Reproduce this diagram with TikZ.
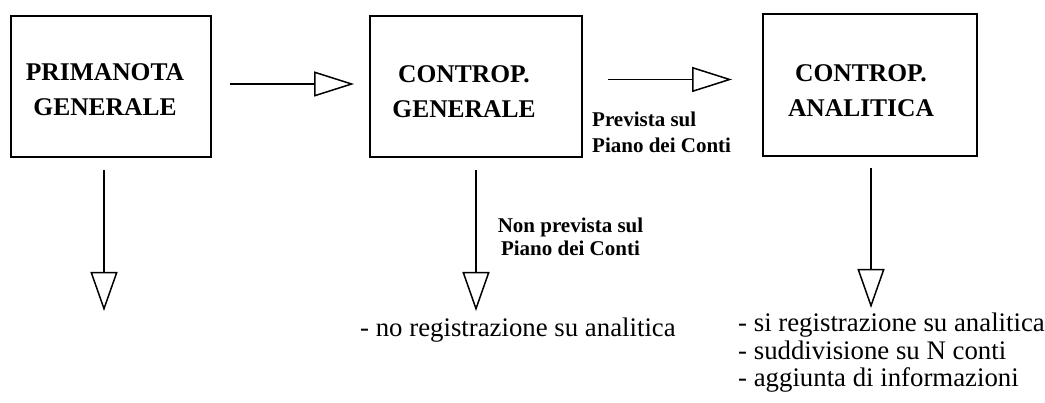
\documentclass[tikz,border=0pt]{standalone}
\usepackage{fontspec}
\setmainfont{Liberation Serif}
\usetikzlibrary{arrows.meta}
\begin{document}
\begin{tikzpicture}[x=1pt,y=-1pt,
  box/.style={draw, line width=1.8pt, inner sep=0pt},
  boxtext/.style={font=\fontsize{25.5}{35}\selectfont\bfseries, align=center, inner sep=0pt},
  lbl/.style={font=\fontsize{21}{26}\selectfont\bfseries, inner sep=0pt},
  lbltight/.style={font=\fontsize{21}{22.5}\selectfont\bfseries, inner sep=0pt},
  note/.style={font=\fontsize{26.8}{27.5}\selectfont, align=left, inner sep=0pt},
  harr/.style={line width=1.5pt, -{Triangle[open, length=40pt, width=25pt]}},
  varr/.style={line width=1.5pt, -{Triangle[open, length=39pt, width=27pt]}}]
\useasboundingbox (0,0) rectangle (1045,403);
% boxes
\node[box, minimum width=200pt, minimum height=141pt] (p1) at (111,86.5) {};
\node[box, minimum width=212pt, minimum height=141pt] (p2) at (476,86.5) {};
\node[box, minimum width=214pt, minimum height=142pt] (p3) at (870,85) {};
% box texts (base = last line)
\node[boxtext, anchor=base] (p1t) at (105,116) {PRIMANOTA\\GENERALE};
\node[boxtext, anchor=base] (p2t) at (464,117.5) {CONTROP.\\GENERALE};
\node[boxtext, anchor=base] (p3t) at (861,117) {CONTROP.\\ANALITICA};
% free ends
\coordinate (e1) at (104,311);
\coordinate (e2) at (476,311);
\coordinate (e3) at (871,308);
% arrows
\draw[harr] ([yshift=2.5pt, xshift=18pt]p1.east) -- ([yshift=2.5pt, xshift=-15pt]p2.west);
\draw[harr] ([yshift=7pt, xshift=25pt]p2.east) -- ([yshift=5.5pt, xshift=-30pt]p3.west);
\draw[varr] ([xshift=-7pt, yshift=-12pt]p1.south) -- (e1);
\draw[varr] ([yshift=-12pt]p2.south) -- (e2);
\draw[varr] ([xshift=1pt, yshift=-11pt]p3.south) -- (e3);
% labels
\node[lbl, align=left, anchor=base west] (l1) at (592,153) {Prevista sul\\Piano dei Conti};
\node[lbltight, align=center, anchor=base] (l2) at (570.5,255.5) {Non prevista sul\\Piano dei Conti};
% notes
\node[note, anchor=base west] (n1) at (360,337) {- no registrazione su analitica};
\node[note, anchor=base west] (n2) at (738,387) {- si registrazione su analitica\\- suddivisione su N conti\\- aggiunta di informazioni};
\end{tikzpicture}
\end{document}
